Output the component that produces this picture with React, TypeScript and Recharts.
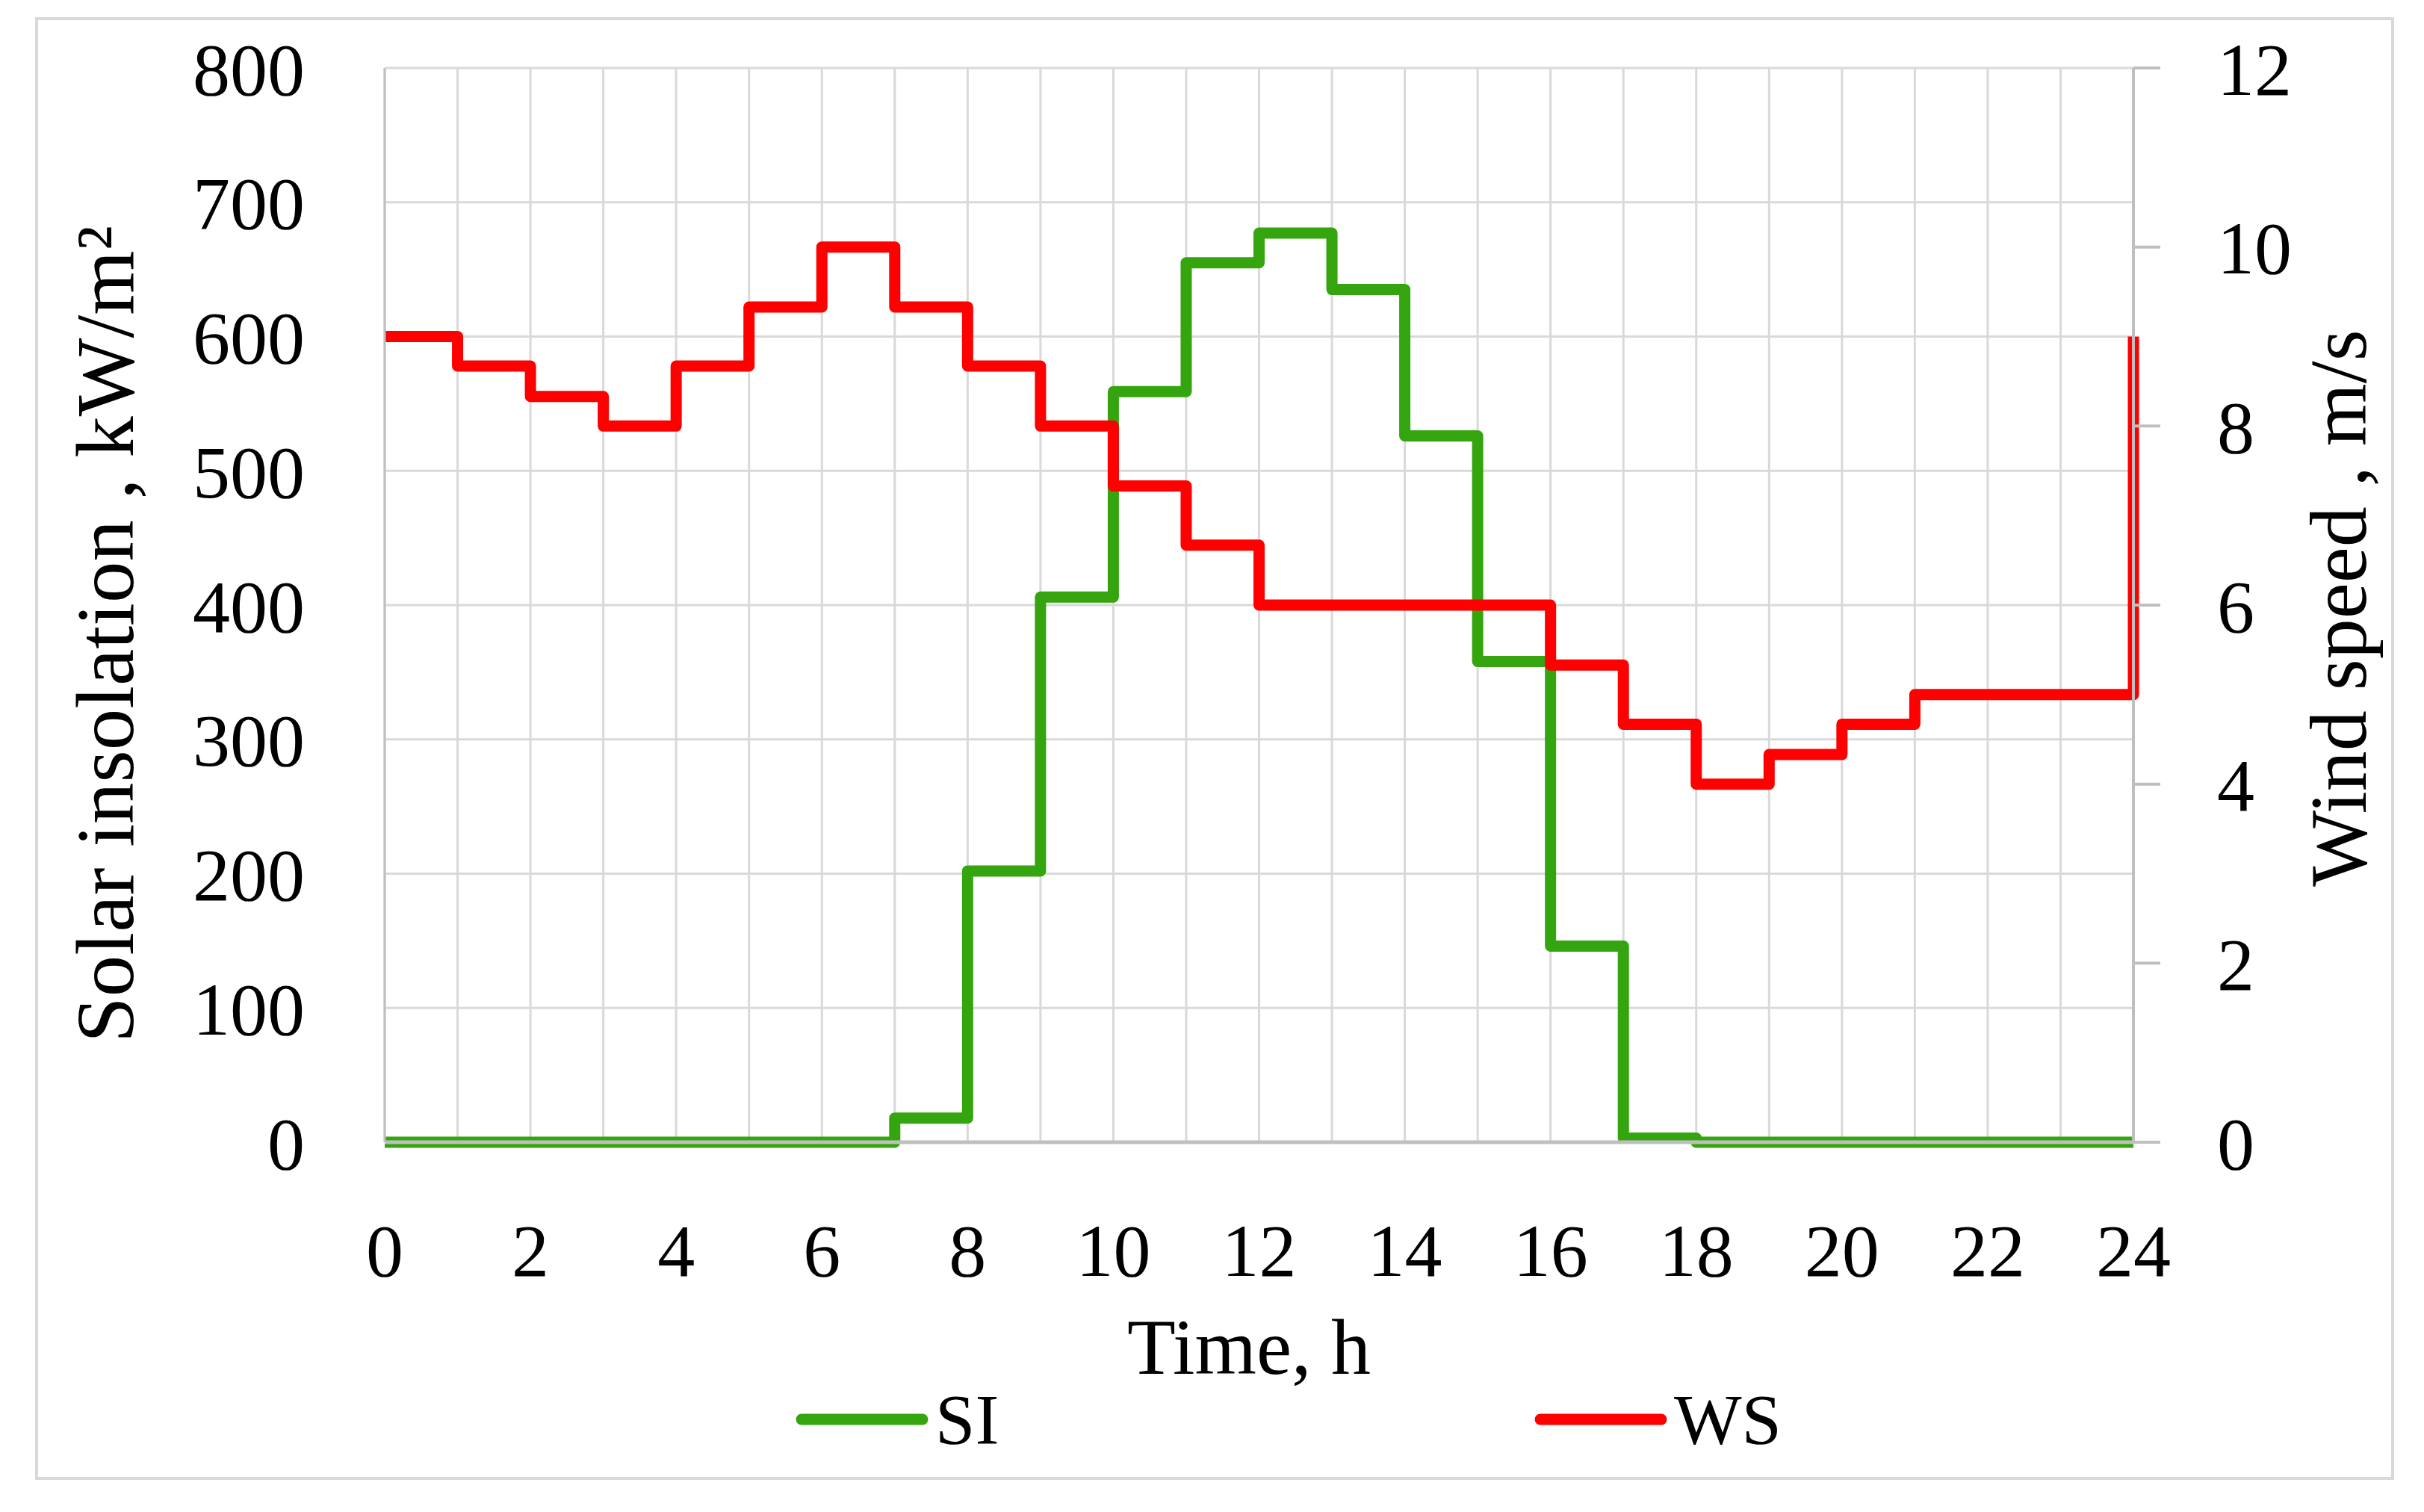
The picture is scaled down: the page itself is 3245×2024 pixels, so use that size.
import { LineChart, Line, XAxis, YAxis, CartesianGrid, Legend } from 'recharts';

// hours of the day (x), one step per hour
const HOURS = [0, 1, 2, 3, 4, 5, 6, 7, 8, 9, 10, 11, 12, 13, 14, 15, 16, 17, 18, 19, 20, 21, 22, 23, 24];
// solar insolation, kW/m2 (left axis)
const SI = [0, 0, 0, 0, 0, 0, 0, 18, 202, 406, 559, 655, 677, 635, 526, 358, 146, 3, 0, 0, 0, 0, 0, 0, 0];
// wind speed, m/s (right axis)
const WS = [9, 8.67, 8.33, 8, 8.67, 9.33, 10, 9.33, 8.67, 8, 7.33, 6.67, 6, 6, 6, 6, 5.33, 4.67, 4, 4.33, 4.67, 5, 5, 5, 9];

const SI_TICKS = [0, 100, 200, 300, 400, 500, 600, 700, 800];
const WS_TICKS = [0, 2, 4, 6, 8, 10, 12];

const SERIES = [
  { key: 'si', name: 'SI', color: '#34A50E', axis: 'left' },
  { key: 'ws', name: 'WS', color: '#FF0000', axis: 'right' },
];

const data = HOURS.map((h, i) => ({ h, si: SI[i], ws: WS[i] }));

const FONT = '"Liberation Serif", "Times New Roman", serif';
const GRID = '#d9d9d9';
const AXIS = '#bfbfbf';
const LEGEND_X = [1066, 2055];

function LegendContent() {
  return (
    <svg width={3245} height={140} style={{ display: 'block', overflow: 'visible' }}>
      {SERIES.map((s, i) => (
        <g key={s.key}>
          <line x1={LEGEND_X[i] + 7} x2={LEGEND_X[i] + 169} y1={70} y2={70} stroke={s.color} strokeWidth={15} strokeLinecap="round" />
          <text x={LEGEND_X[i] + 186} y={70} dy="0.34em" fontSize={96} fontFamily={FONT} fill="#000">
            {s.name}
          </text>
        </g>
      ))}
    </svg>
  );
}

export default function App() {
  const tick = { fill: '#000', fontSize: 100, fontFamily: FONT };
  return (
    <div style={{ position: 'absolute', left: 0, top: 0, width: 3245, height: 2024, background: '#fff' }}>
      <div
        style={{
          position: 'absolute',
          left: 47,
          top: 23,
          width: 3158,
          height: 1958,
          border: `4px solid ${GRID}`,
          boxSizing: 'border-box',
        }}
      />
      <LineChart width={3245} height={2024} data={data} margin={{ top: 91, right: 0, bottom: 0, left: 0 }}>
        <CartesianGrid yAxisId="left" stroke={GRID} strokeWidth={3} />
        <XAxis
          dataKey="h"
          type="number"
          domain={[0, 24]}
          ticks={HOURS}
          interval={0}
          tickFormatter={(h) => (h % 2 === 0 ? String(h) : '')}
          height={495}
          tickLine={false}
          tickMargin={102}
          axisLine={{ stroke: AXIS, strokeWidth: 5 }}
          tick={tick}
          label={() => (
            <text x={1672} y={1839} textAnchor="middle" fontSize={106} fontFamily={FONT} fill="#000">
              Time, h
            </text>
          )}
        />
        <YAxis
          yAxisId="left"
          domain={[0, 800]}
          ticks={SI_TICKS}
          interval={0}
          width={515}
          tickLine={false}
          tickMargin={101}
          axisLine={{ stroke: AXIS, strokeWidth: 3 }}
          tick={tick}
          label={() => (
            <text x={178} y={849} transform="rotate(-90 178 849)" textAnchor="middle" fontSize={111} fontFamily={FONT} fill="#000">
              Solar insolation , kW/m²
            </text>
          )}
        />
        <YAxis
          yAxisId="right"
          orientation="right"
          domain={[0, 12]}
          ticks={WS_TICKS}
          interval={0}
          width={389}
          tickSize={36}
          tickMargin={76}
          tickLine={{ stroke: AXIS, strokeWidth: 4 }}
          axisLine={{ stroke: AXIS, strokeWidth: 4 }}
          tick={tick}
          label={() => (
            <text x={3167} y={814} transform="rotate(-90 3167 814)" textAnchor="middle" fontSize={108} fontFamily={FONT} fill="#000">
              Wind speed , m/s
            </text>
          )}
        />
        <Legend
          layout="horizontal"
          verticalAlign="middle"
          align="center"
          wrapperStyle={{ top: 1830, left: 0, width: 3245, height: 140 }}
          content={() => <LegendContent />}
        />
        {SERIES.map((s) => (
          <Line
            key={s.key}
            yAxisId={s.axis}
            dataKey={s.key}
            name={s.name}
            type="stepAfter"
            stroke={s.color}
            strokeWidth={15}
            strokeLinejoin="round"
            dot={false}
            activeDot={false}
            isAnimationActive={false}
          />
        ))}
      </LineChart>
    </div>
  );
}
